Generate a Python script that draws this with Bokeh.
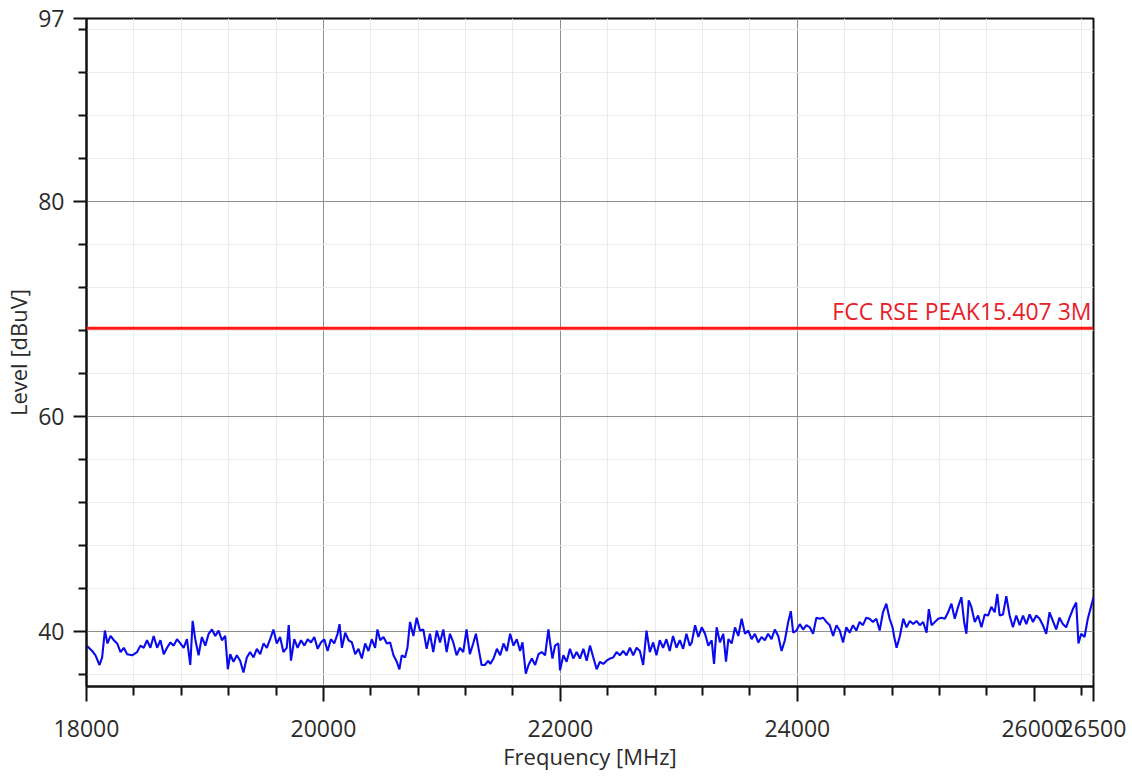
from bokeh.plotting import figure
from bokeh.models import FixedTicker, Range1d, Label, Span, PrintfTickFormatter
from bokeh.embed import file_html
from bokeh.resources import INLINE

# ---------------- data ----------------
x_major = [18000, 20000, 22000, 24000, 26000, 26500]
x_minor = [18400, 18800, 19200, 19600, 20400, 20800, 21200, 21600,
           22400, 22800, 23200, 23600, 24400, 24800, 25200, 25600, 26400]
x_grid = [20000, 22000, 24000]
y_major = [40, 60, 80, 97]
y_grid = [40, 60, 80]
y_minor = [36, 44, 48, 52, 56, 64, 68, 72, 76, 84, 88, 92, 96]

limit_level = 68.2
limit_name = "FCC RSE PEAK15.407 3M"

freq_a = [18000, 18020, 18048, 18076, 18110, 18132, 18155, 18177, 18203, 18231,
          18259, 18287, 18315, 18343, 18385, 18427, 18455, 18483, 18511, 18539,
          18567, 18596, 18624, 18652, 18680, 18708, 18736, 18764, 18792, 18820,
          18848, 18876, 18896, 18918, 18946, 18974, 19003, 19031, 19059, 19087,
          19115, 19143, 19171, 19193, 19213, 19241, 19269, 19297, 19325, 19353,
          19381, 19410, 19438, 19466, 19494, 19522, 19550, 19578, 19606, 19634,
          19662, 19690]
level_a = [38.7, 38.5, 38.2, 37.8, 36.9, 37.6, 40.1, 38.9, 39.6, 39.2,
           38.9, 38.1, 38.5, 37.9, 37.8, 38.1, 38.7, 38.5, 39.2, 38.5,
           39.6, 38.5, 39.2, 37.9, 38.5, 39.0, 38.7, 39.3, 38.9, 38.5,
           39.3, 36.9, 41.0, 39.3, 37.8, 39.5, 38.7, 39.8, 40.2, 39.6,
           40.1, 39.2, 39.6, 36.5, 37.9, 37.2, 37.8, 37.3, 36.2, 37.6,
           38.1, 37.6, 38.4, 37.9, 38.9, 38.5, 39.3, 40.2, 38.9, 39.5,
           38.1, 38.5]

freq_b = [19707, 19726, 19754, 19782, 19811, 19839, 19867, 19895, 19923, 19951,
          19979, 20007, 20035, 20063, 20091, 20119, 20136, 20156, 20184, 20212,
          20240, 20268, 20296, 20324, 20352, 20380, 20408, 20436, 20456, 20479,
          20507, 20535, 20563, 20591, 20619, 20641, 20661, 20689, 20709, 20731,
          20759, 20787, 20815, 20843, 20871, 20899, 20927, 20956, 20984, 21012,
          21040, 21068, 21096, 21124, 21152, 21180, 21208, 21236, 21264, 21287,
          21315, 21335, 21363, 21391]
level_b = [40.6, 37.3, 39.3, 38.5, 39.2, 38.7, 39.3, 39.0, 39.5, 38.4,
           39.0, 39.3, 38.2, 39.3, 38.9, 39.8, 40.7, 38.5, 39.9, 39.2,
           39.0, 37.9, 38.4, 37.5, 38.9, 38.2, 39.3, 38.5, 40.2, 39.2,
           39.5, 38.9, 39.0, 37.8, 37.2, 36.5, 37.8, 37.6, 38.5, 40.9,
           39.6, 41.3, 40.1, 40.2, 38.4, 39.8, 38.1, 40.1, 39.0, 40.2,
           38.1, 39.8, 39.0, 37.8, 38.5, 38.1, 40.2, 37.9, 38.9, 39.8,
           38.1, 36.9, 36.9, 37.3]

freq_c = [21408, 21436, 21464, 21492, 21520, 21548, 21576, 21604, 21632, 21660,
          21680, 21708, 21731, 21759, 21787, 21815, 21843, 21871, 21899, 21913,
          21933, 21955, 21983, 21997, 22025, 22053, 22081, 22109, 22137, 22165,
          22194, 22222, 22250, 22278, 22306, 22334, 22362, 22390, 22418, 22446,
          22474, 22502, 22530, 22558, 22587, 22615, 22643, 22671, 22699, 22727,
          22755, 22783, 22811, 22839, 22867, 22895, 22923, 22951, 22980, 23008,
          23036, 23064, 23092]
level_c = [37.0, 37.5, 38.4, 37.8, 38.9, 38.2, 39.8, 38.7, 39.3, 38.2,
           39.0, 36.1, 36.9, 37.5, 36.9, 37.9, 38.1, 37.8, 40.2, 39.0,
           37.5, 38.7, 38.9, 36.4, 37.8, 37.2, 38.4, 37.5, 38.1, 37.5,
           38.4, 37.3, 38.7, 37.6, 36.5, 37.2, 37.0, 37.3, 37.5, 37.6,
           38.1, 37.8, 38.2, 37.8, 38.5, 37.8, 38.5, 38.2, 36.9, 40.1,
           38.1, 39.0, 37.8, 39.2, 38.5, 39.3, 38.2, 39.6, 38.5, 39.2,
           38.4, 39.8, 38.7]

freq_d = [23109, 23137, 23165, 23193, 23221, 23249, 23277, 23297, 23319, 23347,
          23375, 23398, 23418, 23446, 23474, 23502, 23530, 23558, 23586, 23614,
          23642, 23670, 23698, 23726, 23754, 23782, 23810, 23839, 23867, 23895,
          23923, 23945, 23965, 23993, 24021, 24049, 24077, 24105, 24133, 24161,
          24189, 24217, 24246, 24274, 24302, 24330, 24358, 24386, 24414, 24442,
          24470, 24498, 24526, 24554, 24582, 24610, 24638, 24667, 24695, 24723,
          24751, 24779]
level_d = [39.0, 40.6, 39.5, 40.4, 39.8, 38.7, 39.2, 37.0, 40.4, 39.0,
           39.8, 37.2, 39.3, 38.9, 40.4, 39.6, 41.2, 39.8, 40.1, 39.3,
           39.8, 39.0, 39.5, 39.2, 39.8, 39.3, 40.2, 39.6, 38.2, 39.2,
           40.9, 41.9, 39.9, 40.1, 40.7, 40.2, 40.6, 40.4, 39.8, 41.3,
           41.2, 41.3, 40.9, 40.6, 39.6, 40.6, 40.1, 39.0, 40.4, 39.9,
           40.6, 40.1, 40.9, 40.6, 41.3, 41.2, 40.9, 41.2, 40.1, 41.8,
           42.6, 41.2]

freq_e = [24804, 24818, 24838, 24866, 24894, 24922, 24950, 24978, 25006, 25034,
          25062, 25091, 25110, 25133, 25161, 25189, 25217, 25245, 25273, 25301,
          25329, 25357, 25385, 25408, 25427, 25447, 25469, 25498, 25526, 25554,
          25582, 25610, 25638, 25666, 25688, 25708, 25736, 25764, 25792, 25820,
          25848, 25877, 25905, 25933, 25961, 25989, 26017, 26045, 26073, 26101,
          26129, 26157, 26185, 26213, 26241, 26269, 26298, 26326, 26354, 26373,
          26396, 26424, 26452, 26500]
level_e = [40.4, 39.5, 38.5, 39.6, 41.2, 40.4, 41.0, 40.7, 41.0, 40.6,
           40.9, 39.9, 42.1, 40.6, 40.9, 41.2, 41.3, 41.2, 41.8, 42.6,
           41.2, 42.3, 43.2, 40.9, 39.8, 42.9, 42.3, 40.9, 41.5, 40.4,
           41.6, 41.5, 42.3, 41.8, 43.5, 41.5, 41.6, 43.3, 41.5, 40.4,
           41.5, 40.6, 41.5, 40.7, 41.6, 40.9, 41.5, 41.2, 40.6, 39.8,
           41.8, 41.0, 40.2, 41.3, 40.7, 40.4, 41.3, 42.1, 42.7, 38.9,
           39.8, 39.5, 41.2, 43.2]

freq = freq_a + freq_b + freq_c + freq_d + freq_e
level = level_a + level_b + level_c + level_d + level_e

# ---------------- figure ----------------
FONT = "Open Sans"
TXT = "#2b2b2b"

p = figure(frame_width=1007, frame_height=668,
           min_border_left=85, min_border_right=38,
           min_border_top=18, min_border_bottom=88,
           x_range=Range1d(18000, 26500), y_range=Range1d(34.9, 97),
           output_backend="svg", toolbar_location=None, title=None,
           background_fill_color="white", border_fill_color="white")

p.outline_line_color = "#111111"
p.outline_line_width = 2

# grids
p.xgrid.ticker = FixedTicker(ticks=x_grid, minor_ticks=x_minor)
p.ygrid.ticker = FixedTicker(ticks=y_grid, minor_ticks=y_minor)
for g in (p.xgrid, p.ygrid):
    g.grid_line_color = "#8f8f8f"
    g.grid_line_width = 1
    g.grid_line_alpha = 1.0
    g.minor_grid_line_color = "#ebebeb"
    g.minor_grid_line_width = 1

# axes
p.xaxis.ticker = FixedTicker(ticks=x_major, minor_ticks=x_minor)
p.yaxis.ticker = FixedTicker(ticks=y_major, minor_ticks=y_minor)
p.xaxis.formatter = PrintfTickFormatter(format="%d")
p.yaxis.formatter = PrintfTickFormatter(format="%d")
p.xaxis.axis_label = "Frequency [MHz]"
p.yaxis.axis_label = "Level [dBuV]"

for ax in (p.xaxis, p.yaxis):
    ax.axis_line_color = "#111111"
    ax.axis_line_width = 2
    ax.major_tick_line_color = "#111111"
    ax.minor_tick_line_color = "#111111"
    ax.major_tick_line_width = 2
    ax.minor_tick_line_width = 2
    ax.major_tick_in = 0
    ax.minor_tick_in = 0
    ax.major_label_text_font = FONT
    ax.major_label_text_font_size = "23px"
    ax.major_label_text_color = TXT
    ax.axis_label_text_font = FONT
    ax.axis_label_text_font_size = "22px"
    ax.axis_label_text_font_style = "normal"
    ax.axis_label_text_color = TXT

p.xaxis.major_tick_out = 15
p.xaxis.minor_tick_out = 9
p.xaxis.major_label_standoff = 18
p.xaxis.axis_label_standoff = 1

p.yaxis.major_tick_out = 13
p.yaxis.minor_tick_out = 8
p.yaxis.major_label_standoff = 9
p.yaxis.axis_label_standoff = 2

# limit line
p.add_layout(Span(location=limit_level, dimension="width",
                  line_color="#ff1a1a", line_width=3))
p.add_layout(Label(x=26500, y=limit_level, text=limit_name,
                   text_align="right", text_baseline="bottom",
                   x_offset=-2, y_offset=1,
                   text_font=FONT, text_font_size="23px",
                   text_color="#e8202a"))

# trace
p.line(freq, level, line_color="#0a0aee", line_width=2.1)

open("out.html", "w").write(file_html(p, INLINE))
